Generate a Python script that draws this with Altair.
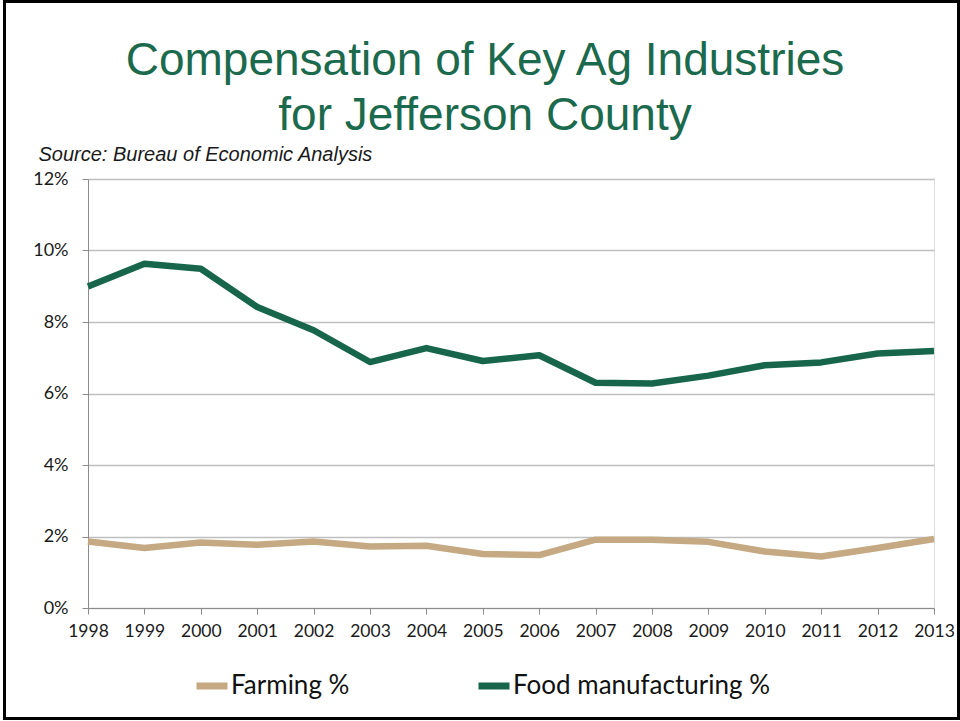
import altair as alt
import pandas as pd

years = list(range(1998, 2014))
farming = [1.86, 1.68, 1.83, 1.77, 1.86, 1.72, 1.74, 1.51, 1.48, 1.91, 1.91, 1.85, 1.58, 1.44, 1.68, 1.93]
food = [8.99, 9.63, 9.49, 8.42, 7.77, 6.88, 7.27, 6.91, 7.07, 6.30, 6.28, 6.50, 6.79, 6.87, 7.12, 7.19]
series_names = ["Farming %", "Food manufacturing %"]
series_colors = ["#C4A982", "#17664B"]
y_ticks = [0, 2, 4, 6, 8, 10, 12]

rows = []
for i, yr in enumerate(years):
    rows.append({"year": yr, "series": series_names[0], "value": farming[i]})
    rows.append({"year": yr, "series": series_names[1], "value": food[i]})
df = pd.DataFrame(rows)

lines = alt.Chart(df).mark_line(strokeWidth=6.5, strokeJoin="round").encode(
    x=alt.X("year:Q",
            scale=alt.Scale(domain=[1998, 2013], nice=False, zero=False),
            axis=alt.Axis(values=years, format="d", title=None, grid=False,
                          labelFont="Lato", labelFontSize=17.5, labelColor="#1a1a1a",
                          tickSize=6, tickColor="#8c8c8c", domainColor="#8c8c8c",
                          labelPadding=8, labelFlush=False, labelOverlap=False)),
    y=alt.Y("value:Q",
            scale=alt.Scale(domain=[0, 12], nice=False),
            axis=alt.Axis(values=y_ticks, labelExpr="datum.value + '%'",
                          title="Source: Bureau of Economic Analysis",
                          titleAngle=0, titleAlign="left", titleBaseline="alphabetic",
                          titleX=-50, titleY=-19, titleFont="Liberation Sans",
                          titleFontStyle="italic", titleFontWeight="normal",
                          titleFontSize=20, titleColor="#1a1a1a",
                          labelFont="Lato", labelFontSize=18, labelColor="#1a1a1a",
                          labelPadding=14, tickSize=6, tickColor="#8c8c8c",
                          domainColor="#8c8c8c", gridColor="#bfbfbf", gridWidth=1.5)),
    color=alt.Color("series:N",
                    scale=alt.Scale(domain=series_names, range=series_colors),
                    legend=alt.Legend(title=None, orient="none", direction="horizontal",
                                      legendX=105, legendY=488,
                                      symbolType="stroke", symbolSize=961,
                                      symbolStrokeWidth=7, labelOffset=0,
                                      columnPadding=114, labelFont="Lato",
                                      labelFontSize=26, labelColor="#111111",
                                      labelLimit=500, padding=0)),
)

border = alt.Chart(pd.DataFrame({"a": [0]})).mark_rect(
    fill=None, stroke="black", strokeWidth=3
).encode(
    x=alt.value(-83.5), x2=alt.value(870.5), y=alt.value(-177.5), y2=alt.value(539.5)
)

chart = alt.layer(lines, border).properties(
    width=846, height=429,
    autosize=alt.AutoSizeParams(type="none"),
    padding={"left": 88, "top": 179, "right": 26, "bottom": 113},
    title=alt.TitleParams(
        text=["Compensation of Key Ag Industries", "for Jefferson County"],
        font="Liberation Sans", fontSize=46, fontWeight="normal",
        color="#1B6A4D", anchor="middle", frame="group", dx=-26, dy=150,
        lineHeight=55, offset=10),
).configure_view(stroke=None).configure(background="white")

chart.save("out.html", embed_options={"renderer": "svg", "actions": False})
